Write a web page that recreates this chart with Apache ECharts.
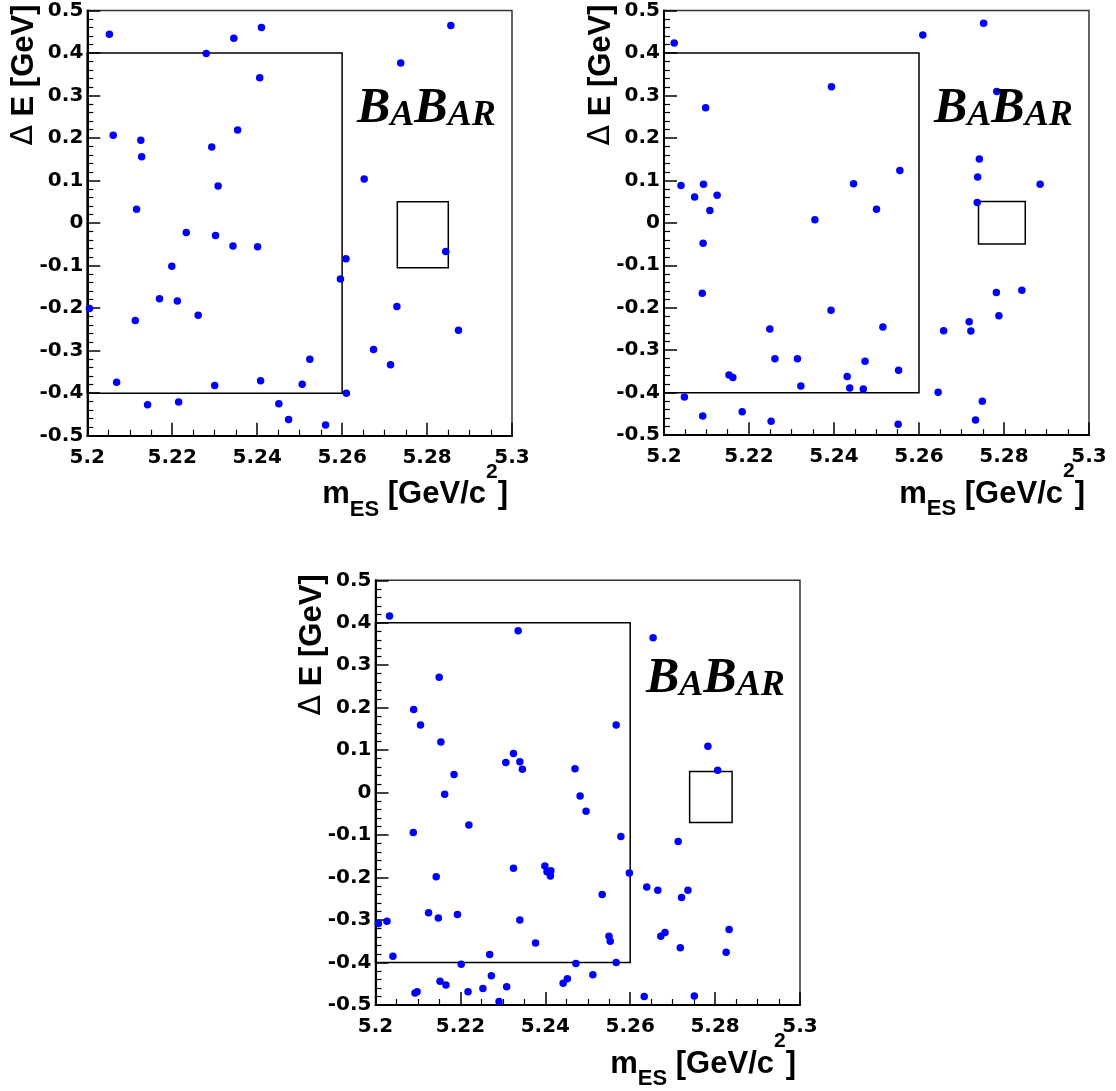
<!DOCTYPE html>
<html>
<head>
<meta charset="utf-8">
<script src="https://cdn.jsdelivr.net/npm/echarts@6/dist/echarts.min.js"></script>
<style>
html,body{margin:0;padding:0;background:#fff;}
#chart{width:1116px;height:1091px;}
</style>
</head>
<body>
<div id="chart"></div>
<script>
// axis ranges: [min, max, interval]
const xRange = [5.2, 5.3, 0.02];
const yRange = [-0.5, 0.5, 0.1];
const xTitle = '{m|m}{sub|ES}{m| [GeV/c}{sup|2}{m|]}';
const yTitle = '{d|Δ}{t| E [GeV]}';
const logoText = '{b|B}{s|A}{b|B}{s|AR}';

// boxes: [xmin, xmax, ymin, ymax]
const bigBox1 = [5.2, 5.26, -0.4, 0.4];
const smallBox1 = [5.273, 5.285, -0.105, 0.05];
const bigBox2 = [5.2, 5.26, -0.4, 0.4];
const smallBox2 = [5.274, 5.285, -0.05, 0.05];
const bigBox3 = [5.2, 5.26, -0.4, 0.4];
const smallBox3 = [5.274, 5.284, -0.07, 0.05];

// panel 1 points [mES, dE]
const points1 = [
 [5.2052, 0.444],[5.2061, 0.2065],[5.2126, 0.195],[5.2128, 0.156],[5.2116, 0.0325],
 [5.2233, -0.022],[5.2302, -0.029],[5.2280, 0.399],[5.2293, 0.179],[5.2308, 0.087],
 [5.2345, 0.435],[5.2354, 0.219],[5.2410, 0.460],[5.2406, 0.342],[5.2343, -0.054],
 [5.2401, -0.0555],[5.2199, -0.1016],[5.2170, -0.178],[5.2212, -0.183],[5.2261, -0.217],
 [5.2113, -0.229],[5.2005, -0.201],[5.2069, -0.3745],[5.2142, -0.427],[5.2215, -0.421],
 [5.2300, -0.382],[5.2408, -0.371],[5.2451, -0.425],[5.2609, -0.084],[5.2596, -0.1315],
 [5.2844, -0.067],[5.2729, -0.196],[5.2874, -0.252],[5.2674, -0.297],[5.2524, -0.320],
 [5.2714, -0.333],[5.2506, -0.379],[5.2610, -0.400],[5.2474, -0.462],[5.2561, -0.475],
 [5.2856, 0.465],[5.2738, 0.3765],[5.2652, 0.104]
];
// panel 2 points
const points2 = [
 [5.2024, 0.423],[5.2040, 0.088],[5.2098, 0.271],[5.2072, 0.061],[5.2093, 0.091],
 [5.2125, 0.065],[5.2108, 0.029],[5.2092, -0.048],[5.2090, -0.166],[5.2048, -0.410],
 [5.2091, -0.455],[5.2153, -0.358],[5.2162, -0.364],[5.2184, -0.445],[5.2252, -0.467],
 [5.2249, -0.250],[5.2261, -0.320],[5.2314, -0.320],[5.2322, -0.384],[5.2355, 0.007],
 [5.2394, 0.320],[5.2393, -0.206],[5.2446, 0.092],[5.2431, -0.362],[5.2437, -0.389],
 [5.2469, -0.391],[5.2473, -0.326],[5.2500, 0.032],[5.2555, 0.123],[5.2515, -0.245],
 [5.2552, -0.347],[5.2551, -0.474],[5.2609, 0.442],[5.2752, 0.470],[5.2783, 0.309],
 [5.2742, 0.150],[5.2738, 0.108],[5.2737, 0.048],[5.2885, 0.091],[5.2782, -0.164],
 [5.2842, -0.159],[5.2788, -0.219],[5.2658, -0.254],[5.2718, -0.233],[5.2722, -0.255],
 [5.2645, -0.399],[5.2749, -0.420],[5.2733, -0.464]
];
// panel 3 points
const points3 = [
 [5.2033, 0.416],[5.2336, 0.381],[5.2150, 0.272],[5.2090, 0.196],[5.2106, 0.159],
 [5.2154, 0.119],[5.2185, 0.043],[5.2163, -0.004],[5.2307, 0.071],[5.2325, 0.092],
 [5.2340, 0.073],[5.2346, 0.055],[5.2470, 0.056],[5.2482, -0.008],[5.2496, -0.044],
 [5.2089, -0.094],[5.2220, -0.076],[5.2143, -0.198],[5.2325, -0.178],[5.2399, -0.173],
 [5.2404, -0.186],[5.2413, -0.184],[5.2412, -0.196],[5.2007, -0.308],[5.2027, -0.303],
 [5.2125, -0.283],[5.2148, -0.295],[5.2193, -0.287],[5.2340, -0.300],[5.2377, -0.354],
 [5.2041, -0.385],[5.2269, -0.381],[5.2202, -0.404],[5.2472, -0.402],[5.2152, -0.444],
 [5.2166, -0.453],[5.2093, -0.472],[5.2098, -0.469],[5.2218, -0.469],[5.2253, -0.461],
 [5.2273, -0.431],[5.2291, -0.492],[5.2309, -0.457],[5.2442, -0.449],[5.2452, -0.438],
 [5.2567, 0.159],[5.2578, -0.103],[5.2598, -0.189],[5.2534, -0.240],[5.2550, -0.338],
 [5.2553, -0.350],[5.2567, -0.400],[5.2512, -0.429],[5.2654, 0.365],[5.2783, 0.109],
 [5.2806, 0.053],[5.2713, -0.115],[5.2639, -0.222],[5.2665, -0.230],[5.2736, -0.230],
 [5.2721, -0.247],[5.2833, -0.322],[5.2672, -0.338],[5.2682, -0.329],[5.2718, -0.365],
 [5.2826, -0.376],[5.2633, -0.480],[5.2751, -0.479]
];

const panels = [
  {points: points1, boxes: [bigBox1, smallBox1], grid: {left: 87.3, top: 10.5, width: 424.7, height: 425.2}, logo: [357, 82]},
  {points: points2, boxes: [bigBox2, smallBox2], grid: {left: 664, top: 10.4, width: 425, height: 424.8}, logo: [934, 82]},
  {points: points3, boxes: [bigBox3, smallBox3], grid: {left: 375.5, top: 580.3, width: 424.5, height: 424.7}, logo: [646, 652]}
];

const labelFont = {color: '#000', fontFamily: 'DejaVu Sans', fontWeight: 'bold', fontSize: 20};
const titleFont = {color: '#000', fontFamily: 'Liberation Sans, Arial, sans-serif', fontWeight: 'bold'};

function makeX(i) {
  return {
    gridIndex: i, type: 'value', min: xRange[0], max: xRange[1], interval: xRange[2],
    axisLine: {show: true, onZero: false, lineStyle: {color: '#000', width: 2}},
    axisTick: {show: true, inside: true, length: 13, lineStyle: {color: '#000', width: 1.5}},
    minorTick: {show: true, splitNumber: 4, length: 6, lineStyle: {color: '#000', width: 1.2}},
    splitLine: {show: false},
    axisLabel: Object.assign({margin: 12, showMinLabel: true, showMaxLabel: true}, labelFont),
    name: xTitle, nameLocation: 'end', nameGap: -4, nameMoveOverlap: false,
    nameTextStyle: {
      align: 'right', verticalAlign: 'top', padding: [24, 0, 0, 0],
      rich: {
        m: Object.assign({fontSize: 31, lineHeight: 70, verticalAlign: 'middle'}, titleFont),
        sub: Object.assign({fontSize: 22, verticalAlign: 'bottom', padding: [0, 0, 9, 0]}, titleFont),
        sup: Object.assign({fontSize: 21, verticalAlign: 'top', padding: [2, 0, 0, 0]}, titleFont)
      }
    }
  };
}
function makeY(i) {
  return {
    gridIndex: i, type: 'value', min: yRange[0], max: yRange[1], interval: yRange[2],
    axisLine: {show: true, onZero: false, lineStyle: {color: '#000', width: 2}},
    axisTick: {show: true, inside: true, length: 13, lineStyle: {color: '#000', width: 1.5}},
    minorTick: {show: true, splitNumber: 5, length: 6, lineStyle: {color: '#000', width: 1.2}},
    splitLine: {show: false},
    axisLabel: Object.assign({margin: 4, showMinLabel: true, showMaxLabel: true}, labelFont),
    name: yTitle, nameLocation: 'end', nameGap: 6, nameRotate: 90, nameMoveOverlap: false,
    nameTextStyle: {
      align: 'right', verticalAlign: 'bottom', padding: [0, 0, 47, 0],
      rich: {
        d: {color: '#000', fontFamily: 'DejaVu Sans', fontWeight: 'normal', fontSize: 30, lineHeight: 32},
        t: Object.assign({fontSize: 31, lineHeight: 32}, titleFont)
      }
    }
  };
}

const option = {
  animation: false,
  backgroundColor: '#fff',
  grid: panels.map(p => Object.assign({show: true, borderColor: '#333', borderWidth: 1.5, backgroundColor: 'transparent', outerBoundsMode: 'none'}, p.grid)),
  xAxis: panels.map((p, i) => makeX(i)),
  yAxis: panels.map((p, i) => makeY(i)),
  series: panels.map((p, i) => ({
    type: 'scatter', xAxisIndex: i, yAxisIndex: i,
    data: p.points, symbol: 'circle', symbolSize: 7.5,
    itemStyle: {color: '#0000ff', opacity: 1},
    silent: true,
    markArea: {
      silent: true,
      itemStyle: {color: 'rgba(0,0,0,0)', borderColor: '#000', borderWidth: 1.5},
      label: {show: false},
      data: p.boxes.map(b => [{coord: [b[0], b[3]]}, {coord: [b[1], b[2]]}])
    }
  })),
  graphic: panels.map(p => ({
    type: 'text', x: p.logo[0], y: p.logo[1], z: 100,
    style: {
      text: logoText, textAlign: 'left', textVerticalAlign: 'top',
      rich: {
        b: {fontFamily: 'Liberation Serif, Times New Roman, serif', fontStyle: 'italic', fontWeight: 'bold', fontSize: 50, lineHeight: 52, verticalAlign: 'bottom', fill: '#000', color: '#000'},
        s: {fontFamily: 'Liberation Serif, Times New Roman, serif', fontStyle: 'italic', fontWeight: 'bold', fontSize: 36, lineHeight: 43.5, verticalAlign: 'bottom', fill: '#000', color: '#000'}
      }
    }
  }))
};

const chart = echarts.init(document.getElementById('chart'), null, {renderer: 'canvas'});
chart.setOption(option);
</script>
</body>
</html>
